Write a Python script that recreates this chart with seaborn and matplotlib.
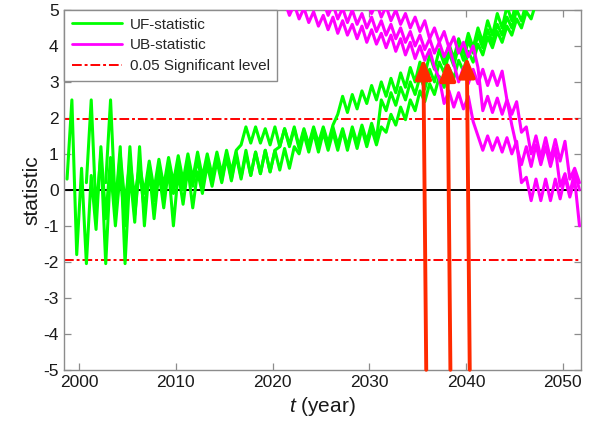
import numpy as np
import pandas as pd
import matplotlib
matplotlib.use("Agg")
import matplotlib.pyplot as plt
from matplotlib.lines import Line2D
import seaborn as sns

# ---------------- data (half-year steps) ----------------
STEP = 0.5

uf1_start = 1998.75
uf1 = [0.3, 2.5, -1.8, 0.6, -2.05, 0.4,
       -1.1, 1.2, -0.8, 0.9, -0.6, 1.0,
       -0.4, 0.8, -0.2, 0.7, -0.1, 0.8,
       0.0, 0.85, 0.1, 0.9, 0.2, 0.95,
       0.25, 1.0, 0.3, 1.05, 0.35, 1.0,
       0.4, 1.05, 0.45, 1.1, 0.5, 1.1,
       1.25, 1.75, 1.3, 1.75, 1.3, 1.7,
       1.25, 1.75, 1.2, 1.7, 1.25, 1.75,
       1.2, 1.7, 1.25, 1.75, 1.3, 1.75,
       1.3, 1.8, 2.1, 2.6, 2.15, 2.65,
       2.25, 2.75, 2.4, 2.9, 2.5, 3.0,
       2.6, 3.1, 2.7, 3.25, 2.85, 3.4,
       3.0, 3.55, 3.2, 3.75, 3.35, 3.9,
       3.5, 4.05, 3.65, 4.2, 3.8, 4.35,
       3.95, 4.5, 4.1, 4.7, 4.3, 4.9,
       4.5, 5.1, 4.7, 5.3]

uf2_start = 2000.75
uf2 = [0.2, 2.5, -0.6, 1.0, -2.05, 0.6,
       -1.0, 0.5, -1.0, 1.2, -0.7, 0.6,
       -0.6, 0.7, -0.3, 0.6, -0.2, 0.7,
       -0.1, 0.75, 0.0, 0.8, 0.1, 0.85,
       0.15, 0.9, 0.2, 0.95, 0.25, 1.0,
       0.3, 1.05, 0.35, 1.1, 0.4, 1.05,
       0.45, 1.1, 0.5, 1.1, 1.2, 1.7,
       1.2, 1.7, 1.15, 1.65, 1.2, 1.7,
       1.15, 1.7, 1.2, 1.75, 1.25, 1.7,
       1.2, 1.75, 1.3, 1.8, 1.35, 1.85,
       1.4, 2.5, 2.2, 2.7, 2.35, 2.85,
       2.5, 3.0, 2.65, 3.15, 2.8, 3.35,
       3.0, 3.55, 3.25, 3.8, 3.45, 4.0,
       3.6, 4.15, 3.8, 4.3, 3.95, 4.45,
       4.1, 4.6, 4.3, 4.8, 4.5, 5.0,
       4.7, 5.2]

uf3_start = 2002.75
uf3 = [0.2, 2.5, -0.5, 1.2, -2.05, 0.5,
       -0.9, 1.2, -1.0, 0.6, -0.8, 0.5,
       -0.5, 0.6, -1.0, 0.5, -0.4, 0.6,
       -0.5, 0.5, -0.1, 0.7, 0.1, 0.8,
       0.2, 0.9, 0.25, 0.95, 0.3, 1.0,
       0.4, 1.05, 0.45, 1.1, 0.5, 1.1,
       0.55, 1.15, 0.6, 1.2, 1.0, 1.55,
       1.05, 1.6, 1.05, 1.6, 1.1, 1.6,
       1.1, 1.65, 1.1, 1.65, 1.15, 1.7,
       1.2, 1.7, 1.25, 1.75, 1.6, 2.1,
       1.8, 2.3, 1.95, 2.5, 2.2, 2.75,
       2.45, 2.95, 2.65, 3.15, 2.85, 3.4,
       3.1, 3.6, 3.3, 3.85, 3.55, 4.05,
       3.75, 4.25, 3.95, 4.4, 4.1, 4.55,
       4.3, 4.75, 4.5, 4.95, 4.75, 5.2]

ub1_start = 2021.25
ub1 = [5.25, 4.85, 5.15, 4.75, 5.05, 4.65,
       4.95, 4.55, 4.85, 4.45, 4.8, 4.35,
       4.7, 4.3, 4.6, 4.2, 4.55, 4.1,
       4.45, 4.05, 4.35, 3.95, 4.3, 3.85,
       4.2, 3.75, 4.1, 3.65, 4.0, 3.6,
       3.9, 3.4, 3.1, 2.4, 2.75, 2.3,
       2.7, 2.25, 2.6, 1.9, 1.5, 1.1,
       1.5, 1.1, 1.45, 1.05, 1.45, 1.0,
       1.35, 0.2, 0.35, -0.3, 0.3, -0.3,
       0.3, -0.3, 0.3, -0.25, 0.35, -0.2,
       0.3, -1.0]

ub2_start = 2025.25
ub2 = [5.25, 4.85, 5.15, 4.75, 5.05, 4.65,
       5.0, 4.6, 4.9, 4.5, 4.8, 4.4,
       4.7, 4.3, 4.6, 4.2, 4.5, 4.1,
       4.4, 4.0, 4.3, 3.9, 4.2, 3.8,
       4.1, 3.7, 4.0, 3.5, 3.0, 3.4,
       2.95, 3.35, 2.95, 3.35, 2.9, 3.3,
       2.9, 3.3, 2.5, 1.8, 1.2, 0.7,
       1.2, 0.65, 1.25, 0.7, 1.2, 0.65,
       1.15, 0.1, 0.45, -0.1, 0.5, 0.0]

ub3_start = 2029.75
ub3 = [5.25, 4.9, 5.2, 4.8, 5.1, 4.7,
       5.0, 4.6, 4.9, 4.5, 4.8, 4.4,
       4.7, 4.2, 4.5, 4.1, 4.4, 3.95,
       4.25, 3.8, 4.1, 3.7, 4.0, 3.4,
       2.2, 2.6, 2.15, 2.55, 2.1, 2.5,
       2.1, 2.45, 1.6, 1.75, 1.0, 1.5,
       0.9, 1.45, 0.85, 1.4, 0.8, 1.35,
       0.3, 0.6, 0.2]

# arrows marking the crossing points (tip) and their tails at the bottom
arrow_tip_x = [2035.6, 2038.1, 2040.1]
arrow_tip_y = [3.65, 3.6, 3.7]
arrow_tail_x = [2035.9, 2038.4, 2040.4]
arrow_tail_y = [-5.0, -5.0, -5.0]

sig_level = 1.96
x_ticks = [2000, 2010, 2020, 2030, 2040, 2050]
y_ticks = [-5, -4, -3, -2, -1, 0, 1, 2, 3, 4, 5]
legend_labels = ["UF-statistic", "UB-statistic", "0.05 Significant level"]

# ---------------- build table ----------------
frames = []
for name, start, vals, kind in [("UF1", uf1_start, uf1, "UF"), ("UF2", uf2_start, uf2, "UF"),
                                ("UF3", uf3_start, uf3, "UF"), ("UB1", ub1_start, ub1, "UB"),
                                ("UB2", ub2_start, ub2, "UB"), ("UB3", ub3_start, ub3, "UB")]:
    t = start + STEP * np.arange(len(vals))
    frames.append(pd.DataFrame({"year": t, "value": vals, "line": name, "kind": kind}))
df = pd.concat(frames, ignore_index=True)

# ---------------- style ----------------
sns.set_theme(style="ticks")
plt.rcParams["font.family"] = ["Liberation Sans", "DejaVu Sans"]
plt.rcParams["mathtext.fontset"] = "custom"
plt.rcParams["mathtext.it"] = "Liberation Sans:italic"
plt.rcParams["mathtext.rm"] = "Liberation Sans"
plt.rcParams["axes.unicode_minus"] = False

GREEN = "#00ff00"
MAGENTA = "#ff00ff"
RED = "#ff0000"
ARROW = "#ff2a00"

fig, ax = plt.subplots(figsize=(5.94, 4.32), dpi=100)
fig.subplots_adjust(left=0.108, right=0.978, top=0.977, bottom=0.144)

ax.axhline(0, color="black", lw=1.4, zorder=1)
for s in (sig_level, -sig_level):
    ax.axhline(s, color=RED, lw=1.4, dashes=(5, 1.5, 1.5, 1.5), zorder=1)

for name, g in df.groupby("line", sort=False):
    color = GREEN if g["kind"].iloc[0] == "UF" else MAGENTA
    sns.lineplot(data=g, x="year", y="value", ax=ax, color=color, lw=2.2,
                 estimator=None, sort=False, legend=False, zorder=3)

for tx, ty, bx, by in zip(arrow_tip_x, arrow_tip_y, arrow_tail_x, arrow_tail_y):
    ax.annotate("", xy=(tx, ty), xytext=(bx, by),
                arrowprops=dict(arrowstyle="-|>,head_length=1.0,head_width=0.4",
                                color=ARROW, lw=2.8, shrinkA=0, shrinkB=0),
                zorder=5)

ax.set_xlim(1998.45, 2051.9)
ax.set_ylim(-5, 5)
ax.set_xticks(x_ticks)
ax.set_yticks(y_ticks)
ax.set_xlabel(r"$t$ (year)", fontsize=15, color="#1a1a1a", labelpad=3)
ax.set_ylabel("statistic", fontsize=15, color="#1a1a1a", labelpad=1)

for sp in ax.spines.values():
    sp.set_visible(True)
    sp.set_color("#8c8c8c")
    sp.set_linewidth(1.0)
ax.tick_params(direction="in", length=5, width=0.9, color="#8c8c8c",
               top=True, right=True, labelsize=12.5, labelcolor="#1a1a1a", pad=4)

handles = [Line2D([], [], color=GREEN, lw=2),
           Line2D([], [], color=MAGENTA, lw=2),
           Line2D([], [], color=RED, lw=1.4, dashes=(5, 1.5, 1.5, 1.5))]
leg = ax.legend(handles, legend_labels, loc="upper left", bbox_to_anchor=(0, 1),
                borderaxespad=0.0, fontsize=11, frameon=True, fancybox=False,
                handlelength=3.3, handletextpad=0.5, borderpad=0.5, labelspacing=0.45)
leg.get_frame().set_edgecolor("#8c8c8c")
leg.get_frame().set_linewidth(1.0)
leg.get_frame().set_alpha(1)
leg.set_zorder(10)

fig.savefig("out.png", dpi=100)
